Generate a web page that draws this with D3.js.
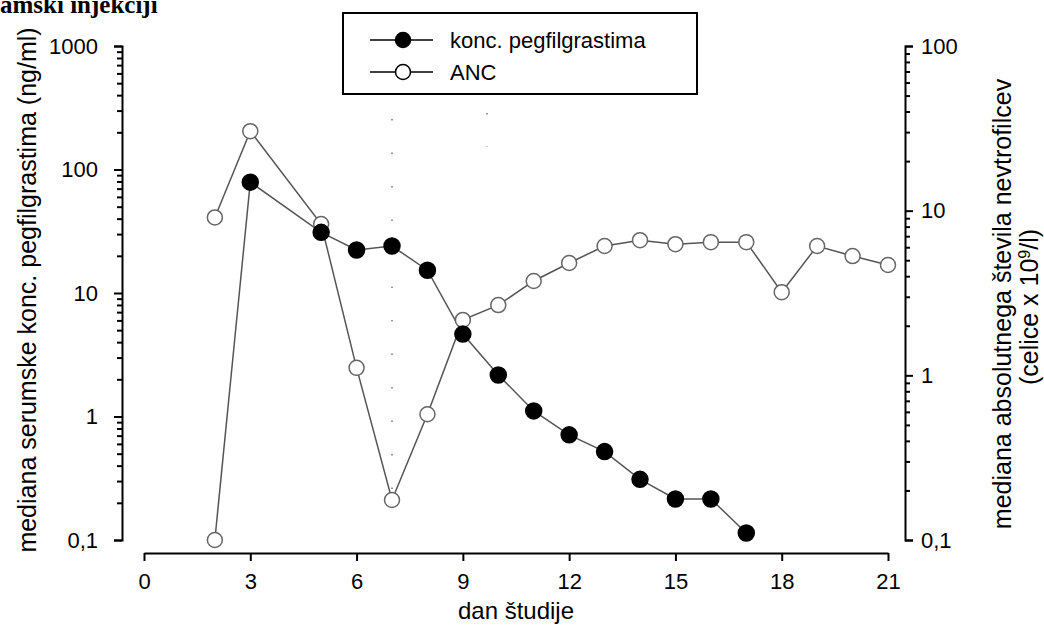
<!DOCTYPE html>
<html>
<head>
<meta charset="utf-8">
<script src="https://cdn.jsdelivr.net/npm/d3@7"></script>
<style>
  body { margin: 0; background: #fff; }
  svg text { font-family: "Liberation Sans", Arial, sans-serif; }
</style>
</head>
<body>
<svg width="1044" height="633"></svg>
<script>
// study days and medians
var pegDays = [2, 3, 5, 6, 7, 8, 9, 10, 11, 12, 13, 14, 15, 16, 17];
var pegConc = [0.1, 79, 31, 22.3, 24, 15.3, 4.65, 2.17, 1.11, 0.71, 0.52, 0.31, 0.215, 0.215, 0.114];

var ancDays = [2, 3, 5, 6, 7, 8, 9, 10, 11, 12, 13, 14, 15, 16, 17, 18, 19, 20, 21];
var ancValues = [9.1, 30.4, 8.3, 1.11, 0.175, 0.58, 2.17, 2.67, 3.74, 4.81, 6.1, 6.62, 6.26, 6.44, 6.44, 3.2, 6.1, 5.3, 4.68];

var xTicks = [0, 3, 6, 9, 12, 15, 18, 21];
var leftTicks = [0.1, 1, 10, 100, 1000];
var leftTickLabels = ["0,1", "1", "10", "100", "1000"];
var rightTicks = [0.1, 1, 10, 100];
var rightTickLabels = ["0,1", "1", "10", "100"];

// faint dotted guides in the original (day, top value, bottom value on left axis)
var guideDays = [7, 9.68];
var guideTop = [256, 287];
var guideBottom = [0.163, 152];

var svg = d3.select("svg");

var x = d3.scaleLinear().domain([0, 21]).range([144, 888]),
    yL = d3.scaleLog().domain([0.1, 1000]).range([540, 46]),
    yR = d3.scaleLog().domain([0.1, 100]).range([540, 46]);

// title fragment cut off at the top
svg.append("text")
    .attr("x", 0)
    .attr("y", 13)
    .style("font-family", "'Liberation Serif', 'Times New Roman', serif")
    .style("font-weight", "bold")
    .style("font-size", "25px")
    .text("amski injekciji");

// x axis
var gx = svg.append("g")
    .attr("transform", "translate(0,553)")
    .call(d3.axisBottom(x).tickValues(xTicks).tickSize(8).tickSizeOuter(0).tickPadding(12));

// left axis
var gl = svg.append("g")
    .attr("transform", "translate(122,0)")
    .call(d3.axisLeft(yL).tickValues(yL.ticks()).tickSizeOuter(0).tickSize(8).tickPadding(16)
        .tickFormat(function (d) {
            var i = leftTicks.indexOf(d);
            return i < 0 ? "" : leftTickLabels[i];
        }));
gl.selectAll(".tick line").attr("x2", function (d) {
    return leftTicks.indexOf(d) < 0 ? -5 : -8;
});

// right axis
var gr = svg.append("g")
    .attr("transform", "translate(905,0)")
    .call(d3.axisRight(yR).tickValues(yR.ticks()).tickSizeOuter(0).tickSize(8).tickPadding(8)
        .tickFormat(function (d) {
            var i = rightTicks.indexOf(d);
            return i < 0 ? "" : rightTickLabels[i];
        }));
gr.selectAll(".tick line").attr("x2", function (d) {
    return rightTicks.indexOf(d) < 0 ? 5 : 8;
});

svg.selectAll(".domain").attr("stroke", "#000").attr("stroke-width", 2);
svg.selectAll(".tick line").attr("stroke", "#000").attr("stroke-width", 2);
svg.selectAll(".tick text")
    .attr("fill", "#000")
    .style("font-size", "22px")
    .style("font-family", "'Liberation Sans', Arial, sans-serif");

// axis titles
svg.append("text")
    .attr("transform", "translate(36,290) rotate(-90)")
    .attr("text-anchor", "middle")
    .style("font-size", "25px")
    .text("mediana serumske konc. pegfilgrastima (ng/ml)");

svg.append("text")
    .attr("transform", "translate(1011,304) rotate(-90)")
    .attr("text-anchor", "middle")
    .style("font-size", "25px")
    .text("mediana absolutnega števila nevtrofilcev");

var t2 = svg.append("text")
    .attr("transform", "translate(1038,307) rotate(-90)")
    .attr("text-anchor", "middle")
    .style("font-size", "25px");
t2.append("tspan").text("(celice x 10");
t2.append("tspan").attr("baseline-shift", "super").style("font-size", "16px").text("9");
t2.append("tspan").text("/l)");

svg.append("text")
    .attr("x", 516)
    .attr("y", 619)
    .attr("text-anchor", "middle")
    .style("font-size", "24px")
    .text("dan študije");

// dotted guides
svg.selectAll(".guide")
    .data(guideDays)
    .enter().append("line")
    .attr("class", "guide")
    .attr("x1", function (d) { return x(d); })
    .attr("x2", function (d) { return x(d); })
    .attr("y1", function (d, i) { return yL(guideTop[i]); })
    .attr("y2", function (d, i) { return yL(guideBottom[i]); })
    .attr("stroke", "#777")
    .attr("stroke-width", 1.5)
    .attr("stroke-dasharray", "1.5,32");

var peg = pegDays.map(function (d, i) { return { day: d, v: pegConc[i] }; });
var anc = ancDays.map(function (d, i) { return { day: d, v: ancValues[i] }; });

svg.append("path")
    .datum(anc)
    .attr("fill", "none")
    .attr("stroke", "#555")
    .attr("stroke-width", 1.5)
    .attr("d", d3.line().x(function (d) { return x(d.day); }).y(function (d) { return yR(d.v); }));

svg.append("path")
    .datum(peg)
    .attr("fill", "none")
    .attr("stroke", "#555")
    .attr("stroke-width", 1.5)
    .attr("d", d3.line().x(function (d) { return x(d.day); }).y(function (d) { return yL(d.v); }));

svg.selectAll(".anc")
    .data(anc)
    .enter().append("circle")
    .attr("class", "anc")
    .attr("cx", function (d) { return x(d.day); })
    .attr("cy", function (d) { return yR(d.v); })
    .attr("r", 7.5)
    .attr("fill", "#fff")
    .attr("stroke", "#666")
    .attr("stroke-width", 1.5);

svg.selectAll(".peg")
    .data(peg)
    .enter().append("circle")
    .attr("class", "peg")
    .attr("cx", function (d) { return x(d.day); })
    .attr("cy", function (d) { return yL(d.v); })
    .attr("r", function (d, i) { return i == 0 ? 7.5 : 8; })
    .attr("fill", function (d, i) { return i == 0 ? "#fff" : "#000"; })
    .attr("stroke", function (d, i) { return i == 0 ? "#666" : "#000"; })
    .attr("stroke-width", 1.5);

// legend
var legend = svg.append("g");
legend.append("rect")
    .attr("x", 343).attr("y", 13)
    .attr("width", 354).attr("height", 81)
    .attr("fill", "#fff")
    .attr("stroke", "#000")
    .attr("stroke-width", 2);

var legendItems = [
    { label: "konc. pegfilgrastima", fill: "#000", stroke: "#000" },
    { label: "ANC", fill: "#fff", stroke: "#000" }
];
legendItems.forEach(function (d, i) {
    var ly = 40 + i * 32;
    legend.append("line")
        .attr("x1", 370).attr("x2", 433)
        .attr("y1", ly).attr("y2", ly)
        .attr("stroke", "#000").attr("stroke-width", 1.5);
    legend.append("circle")
        .attr("cx", 403).attr("cy", ly).attr("r", 7.5)
        .attr("fill", d.fill).attr("stroke", d.stroke).attr("stroke-width", 1.5);
    legend.append("text")
        .attr("x", 450).attr("y", ly)
        .attr("dy", "0.35em")
        .style("font-size", "22px")
        .text(d.label);
});
</script>
</body>
</html>
